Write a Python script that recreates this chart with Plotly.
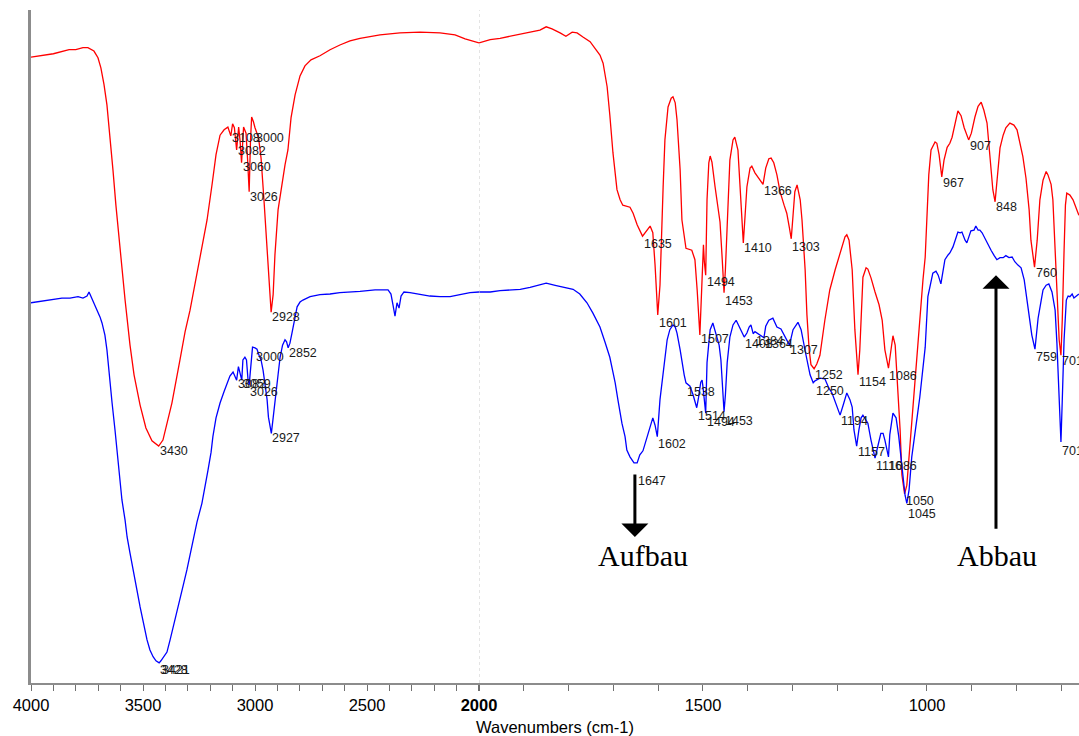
import plotly.graph_objects as go

# ---------------- data (wavenumber cm-1, transmittance a.u.) ----------------
red_wn = [4000, 3900, 3830, 3800, 3768, 3746, 3719, 3701, 3688, 3674, 3661, 3647, 3634, 3621, 3603, 3580,
          3558, 3540, 3513, 3487, 3460, 3430, 3411, 3393, 3371, 3335, 3312, 3290, 3268, 3246, 3228, 3214,
          3192, 3174, 3156, 3138, 3121, 3108, 3100, 3092, 3082, 3073, 3067, 3060, 3051, 3040, 3033, 3026,
          3020, 3015, 3007, 3000, 2984, 2973, 2960, 2946, 2937, 2928, 2919, 2911, 2897, 2879, 2866, 2853,
          2839, 2821, 2799, 2777, 2750, 2710, 2665, 2621, 2576, 2531, 2442, 2353, 2263, 2174, 2107, 2062,
          2027, 2000, 1975, 1953, 1931, 1908, 1886, 1864, 1850, 1837, 1819, 1806, 1792, 1781, 1768, 1752,
          1739, 1730, 1723, 1714, 1708, 1701, 1692, 1685, 1679, 1663, 1656, 1647, 1635, 1625, 1618, 1612,
          1607, 1601, 1596, 1589, 1585, 1578, 1571, 1567, 1562, 1558, 1551, 1547, 1538, 1525, 1518, 1513,
          1507, 1503, 1501, 1499, 1497, 1494, 1491, 1487, 1484, 1480, 1473, 1466, 1462, 1457, 1453, 1450,
          1446, 1440, 1433, 1429, 1422, 1418, 1413, 1410, 1406, 1402, 1395, 1391, 1384, 1375, 1366, 1360,
          1353, 1348, 1342, 1335, 1328, 1319, 1313, 1307, 1303, 1299, 1295, 1290, 1283, 1279, 1272, 1268,
          1263, 1259, 1252, 1246, 1239, 1228, 1217, 1205, 1194, 1183, 1179, 1174, 1167, 1161, 1154, 1150,
          1143, 1136, 1132, 1125, 1116, 1107, 1100, 1094, 1086, 1080, 1076, 1071, 1067, 1060, 1056, 1050,
          1045, 1038, 1031, 1022, 1016, 1009, 1004, 1000, 996, 991, 987, 982, 978, 973, 967, 962,
          955, 949, 944, 937, 931, 924, 917, 907, 901, 893, 886, 879, 873, 866, 859, 853,
          848, 844, 837, 830, 824, 815, 806, 799, 792, 786, 779, 772, 768, 760, 754, 748,
          741, 734, 730, 723, 719, 714, 710, 705, 701, 698, 694, 691, 688, 681, 674, 667, 661]
red_t = [93.0, 93.5, 94.1, 94.1, 94.4, 94.4, 93.9, 92.9, 91.4, 88.9, 85.9, 81.4, 76.2, 71.0, 64.3, 56.9,
         50.2, 45.8, 41.3, 37.9, 36.0, 35.2, 36.1, 38.6, 41.6, 48.0, 52.2, 55.4, 59.4, 63.3, 66.3, 68.8,
         74.0, 78.5, 81.4, 82.2, 82.6, 81.3, 83.1, 82.5, 79.2, 82.6, 80.7, 77.3, 82.6, 81.7, 77.7, 73.0,
         80.7, 84.1, 83.4, 82.5, 81.0, 78.0, 71.8, 64.3, 58.4, 55.1, 57.7, 63.6, 70.3, 74.4, 77.0, 79.2,
         84.0, 87.4, 90.2, 91.7, 92.6, 93.2, 94.1, 94.8, 95.4, 95.8, 96.3, 96.6, 96.7, 96.6, 96.3, 95.7,
         95.3, 95.1, 95.6, 95.8, 96.1, 96.3, 96.6, 97.0, 97.5, 97.2, 96.6, 96.1, 96.7, 96.6, 96.0, 95.3,
         94.1, 93.3, 92.1, 88.6, 84.4, 78.8, 73.3, 71.8, 71.0, 70.7, 69.8, 68.1, 66.4, 67.4, 67.9, 66.9,
         62.1, 54.7, 59.1, 73.7, 80.7, 85.6, 86.9, 87.1, 86.2, 83.7, 76.2, 68.8, 64.6, 64.3, 62.9, 58.4,
         51.7, 58.4, 62.1, 65.1, 62.6, 60.6, 71.8, 77.3, 78.3, 77.4, 73.7, 70.3, 68.5, 62.9, 58.0, 61.4,
         68.8, 77.7, 80.7, 81.1, 79.2, 74.7, 68.1, 65.4, 69.5, 73.7, 76.5, 76.8, 75.8, 75.0, 74.1, 76.5,
         77.9, 78.0, 77.3, 75.5, 73.0, 71.0, 69.8, 67.6, 66.0, 69.5, 73.0, 74.0, 71.8, 68.8, 61.4, 54.7,
         49.5, 47.3, 46.7, 47.4, 48.7, 53.9, 58.4, 61.4, 64.0, 66.3, 66.6, 65.8, 61.4, 52.5, 45.8, 49.5,
         60.3, 61.7, 61.5, 60.2, 58.1, 56.2, 53.9, 49.5, 46.8, 50.2, 51.6, 50.2, 45.8, 37.6, 30.9, 28.1,
         29.4, 35.4, 41.3, 49.5, 55.0, 59.9, 63.3, 68.8, 75.5, 79.2, 79.8, 80.4, 80.2, 78.5, 75.2, 77.7,
         79.6, 80.2, 81.1, 83.4, 85.0, 84.3, 82.5, 80.7, 81.7, 84.1, 85.7, 86.3, 85.1, 83.2, 77.3, 73.3,
         71.5, 74.1, 79.5, 81.4, 82.5, 83.2, 82.9, 82.2, 80.2, 78.2, 75.0, 70.3, 65.8, 61.8, 65.8, 71.8,
         74.7, 76.0, 75.5, 74.1, 71.8, 64.8, 56.9, 51.0, 48.7, 54.0, 64.3, 71.0, 72.8, 72.5, 71.8, 70.6, 69.5]

blue_wn = [4000, 3937, 3902, 3862, 3826, 3790, 3768, 3750, 3741, 3732, 3719, 3705, 3692, 3683, 3670, 3661,
           3647, 3638, 3625, 3616, 3603, 3594, 3580, 3571, 3558, 3545, 3527, 3513, 3496, 3482, 3469, 3455,
           3442, 3428, 3420, 3406, 3393, 3379, 3366, 3348, 3335, 3317, 3304, 3290, 3277, 3259, 3237, 3223,
           3210, 3196, 3188, 3174, 3156, 3138, 3125, 3112, 3098, 3089, 3082, 3074, 3067, 3059, 3054, 3045,
           3038, 3031, 3026, 3018, 3011, 3000, 2991, 2982, 2973, 2964, 2955, 2946, 2940, 2927, 2920, 2911,
           2897, 2888, 2877, 2866, 2859, 2852, 2844, 2835, 2826, 2812, 2799, 2786, 2754, 2710, 2665, 2621,
           2531, 2464, 2406, 2393, 2384, 2375, 2366, 2357, 2348, 2335, 2308, 2263, 2219, 2174, 2129, 2085,
           2040, 2000, 1975, 1953, 1931, 1908, 1886, 1864, 1850, 1830, 1808, 1790, 1775, 1759, 1746, 1730,
           1719, 1708, 1701, 1696, 1690, 1681, 1674, 1670, 1663, 1654, 1647, 1641, 1634, 1625, 1618, 1612,
           1607, 1602, 1596, 1589, 1585, 1580, 1574, 1567, 1562, 1558, 1551, 1547, 1542, 1538, 1529, 1522,
           1514, 1510, 1505, 1502, 1500, 1494, 1491, 1487, 1484, 1478, 1471, 1464, 1460, 1455, 1453, 1450,
           1446, 1440, 1433, 1426, 1420, 1413, 1408, 1402, 1397, 1393, 1388, 1384, 1377, 1373, 1364, 1360,
           1353, 1344, 1335, 1326, 1317, 1307, 1299, 1288, 1281, 1277, 1270, 1261, 1254, 1250, 1239, 1228,
           1219, 1212, 1203, 1194, 1187, 1179, 1172, 1167, 1163, 1157, 1152, 1147, 1143, 1136, 1132, 1125,
           1116, 1109, 1103, 1098, 1094, 1086, 1083, 1076, 1069, 1063, 1056, 1049, 1045, 1040, 1034, 1027,
           1022, 1016, 1009, 1004, 998, 991, 987, 980, 975, 969, 964, 960, 953, 949, 942, 937,
           931, 926, 922, 915, 911, 906, 902, 895, 891, 886, 882, 877, 871, 864, 857, 850,
           844, 837, 830, 824, 817, 810, 804, 797, 790, 783, 777, 770, 766, 759, 757, 752,
           745, 741, 734, 728, 721, 714, 710, 705, 701, 698, 694, 689, 685, 681, 676, 672, 667, 661]
blue_t = [56.5, 56.8, 56.9, 57.2, 57.2, 57.4, 57.2, 57.5, 58.1, 57.4, 56.6, 55.4, 54.4, 53.5, 51.7, 49.5,
          45.3, 41.6, 37.6, 34.6, 30.5, 27.2, 24.2, 21.7, 19.3, 16.8, 13.8, 11.3, 8.3, 6.4, 4.9, 3.9,
          3.3, 3.0, 3.3, 3.9, 4.6, 6.4, 8.3, 10.8, 12.8, 15.0, 16.8, 19.0, 21.2, 23.9, 26.7, 29.1,
          31.6, 34.3, 36.6, 39.4, 41.6, 43.3, 44.6, 45.6, 46.2, 45.5, 45.0, 47.0, 46.2, 45.0, 48.0, 48.4,
          48.0, 45.0, 44.3, 48.0, 49.9, 49.8, 49.6, 48.7, 48.0, 46.5, 44.6, 42.1, 39.5, 37.1, 39.1, 42.1,
          45.8, 48.4, 50.2, 51.0, 50.7, 49.8, 50.5, 52.0, 53.6, 55.9, 56.6, 56.9, 57.4, 57.7, 57.8, 58.0,
          58.2, 58.4, 58.4, 57.8, 56.2, 54.5, 56.5, 55.7, 57.5, 58.1, 58.0, 57.7, 57.5, 57.4, 57.4, 57.7,
          58.0, 58.1, 58.1, 58.3, 58.4, 58.5, 58.8, 59.1, 59.4, 59.1, 58.8, 58.5, 57.8, 56.5, 55.0, 52.9,
          50.7, 48.4, 46.2, 44.6, 42.1, 38.6, 36.6, 34.6, 33.6, 32.7, 32.7, 33.9, 34.5, 36.6, 37.9, 39.4,
          38.3, 36.6, 42.1, 46.1, 48.7, 51.0, 52.5, 53.2, 52.9, 52.0, 49.5, 47.6, 45.8, 44.6, 44.1, 42.8,
          40.9, 42.4, 44.7, 45.0, 44.0, 40.1, 47.6, 50.5, 52.5, 53.5, 52.0, 50.2, 48.0, 42.1, 40.3, 42.8,
          47.6, 51.4, 53.2, 53.9, 53.0, 52.0, 51.4, 52.0, 52.9, 53.2, 51.9, 52.2, 51.9, 51.6, 51.3, 53.0,
          53.9, 54.2, 52.9, 52.6, 51.4, 50.2, 52.5, 53.6, 52.5, 51.3, 48.7, 45.8, 44.6, 44.9, 45.3, 45.2,
          43.8, 43.1, 41.3, 39.8, 41.3, 43.1, 42.1, 41.0, 37.6, 35.2, 37.6, 39.4, 39.8, 39.0, 38.6, 36.1,
          33.4, 35.4, 37.1, 37.1, 36.1, 33.6, 36.9, 40.1, 39.4, 36.6, 31.7, 27.9, 26.7, 28.7, 33.6, 37.6,
          39.5, 42.5, 47.3, 49.9, 57.4, 59.9, 60.9, 61.2, 60.6, 59.3, 61.1, 62.9, 63.6, 63.9, 64.8, 65.8,
          67.0, 66.9, 67.0, 65.8, 65.4, 66.4, 67.2, 67.3, 67.9, 67.3, 67.3, 66.9, 66.1, 65.1, 64.3, 63.5,
          62.9, 63.2, 63.2, 63.5, 63.2, 63.3, 62.6, 62.1, 61.7, 59.9, 56.9, 54.2, 51.7, 49.6, 51.1, 54.2,
          56.9, 58.4, 59.1, 59.3, 58.1, 55.4, 50.5, 43.5, 35.8, 42.1, 51.0, 56.9, 57.5, 57.4, 57.8, 57.2, 57.5, 57.8]

red_labels = ["3430", "3108", "3082", "3060", "3026", "3000", "2928", "1635", "1601", "1507", "1494", "1453",
              "1410", "1366", "1303", "1252", "1154", "1086", "1050", "967", "907", "848", "760", "701"]
red_label_t = [35.2, 81.7, 79.8, 77.4, 73.0, 81.7, 55.1, 66.0, 54.2, 51.9, 60.3, 57.5,
               65.4, 73.9, 65.5, 46.5, 45.5, 46.4, 27.8, 75.0, 80.5, 71.5, 61.7, 48.6]
blue_labels = ["3428", "3421", "3082", "3059", "3026", "3000", "2927", "2852", "1647", "1602", "1538", "1514",
               "1494", "1453", "1408", "1384", "1364", "1307", "1250", "1194", "1157", "1116", "1086", "1045",
               "759", "701"]
blue_label_t = [2.7, 2.7, 45.2, 45.2, 44.0, 49.2, 37.1, 49.8, 30.8, 36.3, 44.0, 40.4,
                39.5, 39.7, 51.1, 51.6, 51.1, 50.2, 44.1, 39.7, 35.1, 33.0, 33.0, 25.9,
                49.2, 35.2]

tick_major_hi = [4000, 3500, 3000, 2500]
tick_major_lo = [2000, 1500, 1000]
x_title = "Wavenumbers (cm-1)"
arrow_texts = ["Aufbau", "Abbau"]
arrow_wn = [1652, 846]

# ---------------- figure ----------------
SPLIT = 2000
LOW_END = 660.7
dom_split = 2000 / (2000 + 2 * (SPLIT - LOW_END))

fig = go.Figure()


def add_spectrum(wn, t, color):
    hi = [(w, v) for w, v in zip(wn, t) if w >= SPLIT]
    lo = [(w, v) for w, v in zip(wn, t) if w <= SPLIT]
    fig.add_trace(go.Scatter(x=[p[0] for p in hi], y=[p[1] for p in hi], mode="lines",
                             line=dict(color=color, width=1.3), xaxis="x", yaxis="y", hoverinfo="skip"))
    fig.add_trace(go.Scatter(x=[p[0] for p in lo], y=[p[1] for p in lo], mode="lines",
                             line=dict(color=color, width=1.3), xaxis="x2", yaxis="y", hoverinfo="skip"))


add_spectrum(red_wn, red_t, "#ff0000")
add_spectrum(blue_wn, blue_t, "#0000ff")

annotations = []
label_font = dict(family="Liberation Sans, Arial", size=12.5, color="#1a1a1a")
for labels, ts in ((red_labels, red_label_t), (blue_labels, blue_label_t)):
    for lab, tv in zip(labels, ts):
        w = float(lab)
        annotations.append(dict(x=w, y=tv, xref="x" if w >= SPLIT else "x2", yref="y",
                                text=lab, showarrow=False, xanchor="left", yanchor="top",
                                font=label_font, xshift=-1, yshift=4))

# arrows
annotations.append(dict(x=arrow_wn[0], y=21.7, ax=arrow_wn[0], ay=31.2, xref="x2", yref="y",
                        axref="x2", ayref="y", text="", showarrow=True, arrowhead=1,
                        arrowwidth=3, arrowsize=1.5, arrowcolor="black", standoff=0))
annotations.append(dict(x=arrow_wn[1], y=60.6, ax=arrow_wn[1], ay=22.7, xref="x2", yref="y",
                        axref="x2", ayref="y", text="", showarrow=True, arrowhead=1,
                        arrowwidth=3, arrowsize=1.5, arrowcolor="black", standoff=0))
serif = dict(family="Liberation Serif, Times New Roman", size=30, color="black")
annotations.append(dict(x=1634, y=19.0, xref="x2", yref="y", text=arrow_texts[0], showarrow=False,
                        font=serif, xanchor="center", yanchor="middle"))
annotations.append(dict(x=844, y=19.0, xref="x2", yref="y", text=arrow_texts[1], showarrow=False,
                        font=serif, xanchor="center", yanchor="middle"))
annotations.append(dict(x=0.5, y=-0.0654, xref="paper", yref="paper", text=x_title, showarrow=False,
                        font=dict(family="Liberation Sans, Arial", size=16.5, color="black"),
                        xanchor="center", yanchor="middle"))

axis_common = dict(showline=True, linecolor="#8c8c8c", linewidth=2, showgrid=False, zeroline=False,
                   ticks="outside", ticklen=6, tickcolor="#707070", tickwidth=1,
                   tickfont=dict(family="Liberation Sans, Arial", size=16.5, color="black"),
                   anchor="y")

fig.update_layout(
    width=1079, height=736,
    margin=dict(l=31, r=0, t=10, b=53),
    paper_bgcolor="white", plot_bgcolor="white",
    showlegend=False,
    xaxis=dict(domain=[0, dom_split], range=[4000, SPLIT], tickmode="array",
               tickvals=tick_major_hi, ticktext=[str(v) for v in tick_major_hi],
               minor=dict(ticks="outside", ticklen=6, tickcolor="#707070", dtick=100, tick0=0),
               **axis_common),
    xaxis2=dict(domain=[dom_split, 1], range=[SPLIT, LOW_END], tickmode="array",
                tickvals=tick_major_lo,
                ticktext=["<b>2000</b>"] + [str(v) for v in tick_major_lo[1:]],
                minor=dict(ticks="outside", ticklen=6, tickcolor="#707070", dtick=100, tick0=0),
                **axis_common),
    yaxis=dict(range=[0, 100], showticklabels=False, ticks="", showgrid=False, zeroline=False,
               showline=True, linecolor="#8c8c8c", linewidth=2.5),
    annotations=annotations,
    shapes=[dict(type="line", xref="x2", yref="paper", x0=SPLIT, x1=SPLIT, y0=0, y1=1,
                 line=dict(color="#c8c8c8", width=1, dash="dot"))],
)

fig.write_html("out.html")
